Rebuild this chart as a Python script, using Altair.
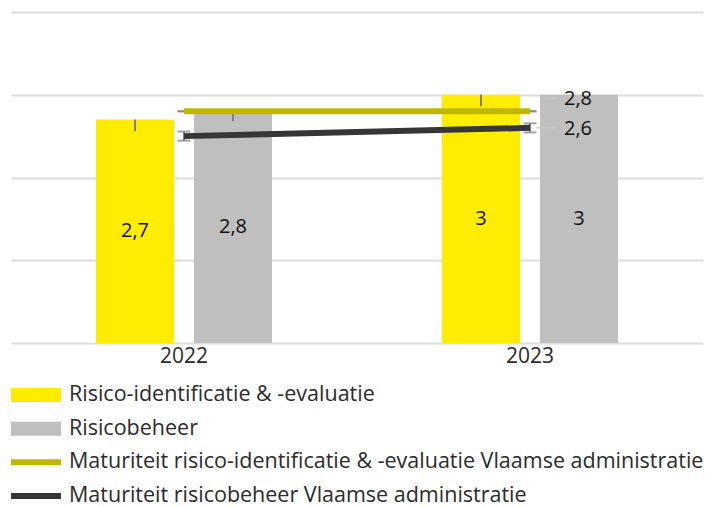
import altair as alt
import pandas as pd

# ---------------- data ----------------
years = ["2022", "2023"]
bar_series = ["Risico-identificatie & -evaluatie", "Risicobeheer"]
ident_values = [2.7, 3.0]
beheer_values = [2.8, 3.0]
ident_err_low = [2.56, 2.86]
beheer_err_low = [2.68, 3.0]

line_series = [
    "Maturiteit risico-identificatie & -evaluatie Vlaamse administratie",
    "Maturiteit risicobeheer Vlaamse administratie",
]
mat_ident = [2.8, 2.8]
mat_beheer = [2.5, 2.6]
mat_ident_err = [0.0, 0.0]
mat_beheer_err = [0.055, 0.055]

y_ticks = [0, 1, 2, 3, 4]
colors = ["#ffed00", "#bfbfbf", "#c0b800", "#363636"]

# ---------------- tables ----------------
bars_df = pd.DataFrame(
    {
        "year": years * 2,
        "series": [bar_series[0]] * 2 + [bar_series[1]] * 2,
        "value": ident_values + beheer_values,
        "low": ident_err_low + beheer_err_low,
    }
)
lines_df = pd.DataFrame(
    {
        "year": years * 2,
        "series": [line_series[0]] * 2 + [line_series[1]] * 2,
        "value": mat_ident + mat_beheer,
        "err": mat_ident_err + mat_beheer_err,
    }
)
legend_df = pd.DataFrame(
    {"label": bar_series + line_series, "kind": ["bar", "bar", "line", "line"]}
)

FONT = "Open Sans"
TXT = "#2b2b2b"
all_labels = bar_series + line_series
color_scale = alt.Scale(domain=all_labels, range=colors)

x_enc = alt.X(
    "year:N",
    sort=years,
    scale=alt.Scale(domain=years, paddingInner=0.4913, paddingOuter=0.2457),
    axis=alt.Axis(
        title=None, labelAngle=0, ticks=False, domain=False, grid=False,
        labelFont=FONT, labelFontSize=21, labelColor=TXT, labelPadding=2,
    ),
)
y_axis = alt.Axis(
    title=None, values=y_ticks, labels=False, ticks=False, domain=False,
    grid=True, gridColor="#dedede", gridWidth=2,
)
y_scale = alt.Scale(domain=[0, 4], nice=False)
xoff = alt.XOffset(
    "series:N", sort=bar_series,
    scale=alt.Scale(domain=bar_series, paddingInner=0.204, paddingOuter=0),
)

base_bars = alt.Chart(bars_df)
bars = base_bars.mark_bar().encode(
    x=x_enc, xOffset=xoff,
    y=alt.Y("value:Q", scale=y_scale, axis=y_axis),
    color=alt.Color("series:N", scale=color_scale, legend=None),
)
bar_labels = base_bars.transform_calculate(
    mid="datum.value / 2",
    lbl="replace(format(datum.value, '.1~f'), '.', ',')",
).mark_text(font=FONT, fontSize=20, color="#111111").encode(
    x=x_enc, xOffset=xoff,
    y=alt.Y("mid:Q", scale=y_scale, axis=y_axis),
    text="lbl:N",
)
bar_err = base_bars.mark_rule(color="#7f7f7f", strokeWidth=2).encode(
    x=x_enc, xOffset=xoff,
    y=alt.Y("value:Q", scale=y_scale, axis=y_axis),
    y2="low:Q",
)

base_lines = alt.Chart(lines_df).transform_calculate(
    hi="datum.value + datum.err", lo="datum.value - datum.err"
)
line_err = base_lines.mark_rule(color="#7f7f7f", strokeWidth=2).encode(
    x=x_enc, y=alt.Y("lo:Q", scale=y_scale, axis=y_axis), y2="hi:Q"
)
cap_hi = base_lines.mark_tick(
    orient="horizontal", size=13, thickness=2, color="#7f7f7f"
).encode(x=x_enc, y=alt.Y("hi:Q", scale=y_scale, axis=y_axis))
cap_lo = base_lines.mark_tick(
    orient="horizontal", size=13, thickness=2, color="#7f7f7f"
).encode(x=x_enc, y=alt.Y("lo:Q", scale=y_scale, axis=y_axis))

lines = base_lines.mark_line(strokeWidth=6, strokeCap="butt").encode(
    x=x_enc,
    y=alt.Y("value:Q", scale=y_scale, axis=y_axis),
    color=alt.Color("series:N", scale=color_scale, legend=None),
    detail="series:N",
)

last = base_lines.transform_calculate(
    lbl="replace(format(datum.value, '.1~f'), '.', ',')"
).transform_filter(f"datum.year == '{years[-1]}'")

lab1 = last.transform_filter(f"datum.series == '{line_series[0]}'").mark_text(
    align="left", baseline="middle", dx=34, dy=-12, font=FONT, fontSize=20, color="#111111"
).encode(x=x_enc, y=alt.Y("value:Q", scale=y_scale, axis=y_axis), text="lbl:N")
lab2 = last.transform_filter(f"datum.series == '{line_series[1]}'").mark_text(
    align="left", baseline="middle", dx=34, dy=1, font=FONT, fontSize=20, color="#111111"
).encode(x=x_enc, y=alt.Y("value:Q", scale=y_scale, axis=y_axis), text="lbl:N")

lead2 = last.transform_filter(f"datum.series == '{line_series[1]}'").mark_tick(
    orient="horizontal", size=20, thickness=1.5, color="#c8c8c8", xOffset=16
).encode(x=x_enc, y=alt.Y("value:Q", scale=y_scale, axis=y_axis))
lead1 = last.transform_filter(f"datum.series == '{line_series[0]}'").mark_tick(
    orient="horizontal", size=12, thickness=1.5, color="#c8c8c8", xOffset=20, yOffset=-13
).encode(x=x_enc, y=alt.Y("value:Q", scale=y_scale, axis=y_axis))

top = alt.layer(
    bars, bar_err, bar_labels, line_err, cap_hi, cap_lo, lines,
    lead1, lead2, lab1, lab2,
).properties(width=692, height=331)

# ---------------- legend panel ----------------
ly = alt.Y(
    "label:N", sort=all_labels,
    scale=alt.Scale(type="point", domain=all_labels, padding=0), axis=None,
)
lc = alt.Color("label:N", scale=color_scale, legend=None)
lbase = alt.Chart(legend_df)
sym_bar = lbase.transform_filter("datum.kind == 'bar'").mark_rule(
    strokeWidth=14, strokeCap="butt"
).encode(x=alt.value(0), x2=alt.value(50), y=ly, color=lc)
sym_line = lbase.transform_filter("datum.kind == 'line'").mark_rule(
    strokeWidth=6, strokeCap="butt"
).encode(x=alt.value(0), x2=alt.value(50), y=ly, color=lc)
leg_txt = lbase.mark_text(
    align="left", baseline="middle", font=FONT, fontSize=21.5, color=TXT
).encode(x=alt.value(58), y=ly, text="label:N")
legend_panel = alt.layer(sym_bar, sym_line, leg_txt).properties(width=692, height=101)

chart = (
    alt.vconcat(top, legend_panel, spacing=18)
    .properties(padding={"left": -4, "top": 4, "right": 0, "bottom": 1})
    .configure_view(stroke=None)
)

chart.save("out.html", embed_options={"renderer": "svg", "actions": False})
